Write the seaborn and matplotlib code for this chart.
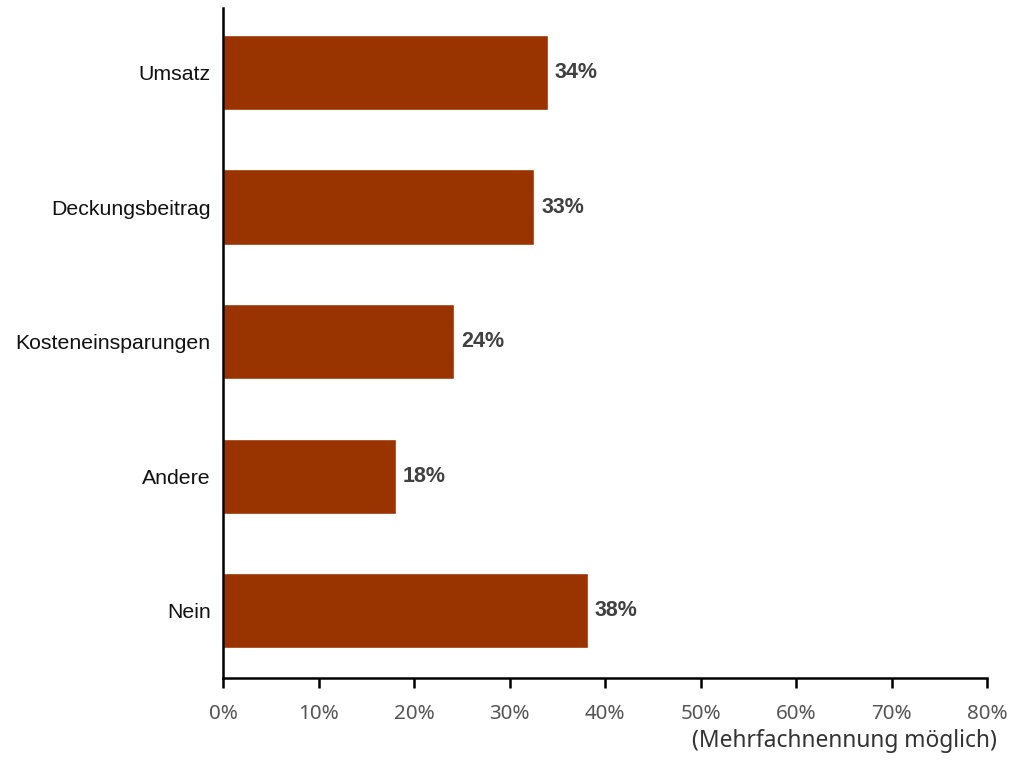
import matplotlib
matplotlib.use("Agg")
import matplotlib.pyplot as plt
import seaborn as sns
import pandas as pd
from matplotlib.ticker import FuncFormatter

# Survey answers and their shares in percent
categories = ["Umsatz", "Deckungsbeitrag", "Kosteneinsparungen", "Andere", "Nein"]
shares = [34.0, 32.6, 24.2, 18.1, 38.2]
x_ticks = [0, 10, 20, 30, 40, 50, 60, 70, 80]
note = "(Mehrfachnennung möglich)"

bar_color = "#993300"

sns.set_theme(style="white")
plt.rcParams["font.family"] = ["Liberation Sans", "DejaVu Sans"]

df = pd.DataFrame({"kategorie": categories, "anteil": shares})

fig = plt.figure(figsize=(10.11, 7.81), dpi=100)
ax = fig.add_axes([0.2206, 0.1319, 0.7557, 0.8579])

sns.barplot(data=df, x="anteil", y="kategorie", orient="h", color=bar_color,
            saturation=1, width=0.56, ax=ax)

ax.set_xlim(0, 80)
ax.set_ylim(4.5, -0.48)
ax.set_xticks(x_ticks)
ax.xaxis.set_major_formatter(FuncFormatter(lambda v, _: f"{v:.0f}%"))
ax.set_xlabel("")
ax.set_ylabel("")

for side in ("top", "right"):
    ax.spines[side].set_visible(False)
for side in ("left", "bottom"):
    ax.spines[side].set_color("black")
    ax.spines[side].set_linewidth(1.8)

ax.tick_params(axis="x", direction="out", length=7, width=1.8, color="black",
               bottom=True, pad=12, labelsize=14.8, labelcolor="#555555")
ax.tick_params(axis="y", length=0, pad=9, labelsize=15.3, labelcolor="#111111")
for lbl in ax.get_xticklabels():
    lbl.set_family(["Noto Sans", "DejaVu Sans"])

# Value labels at the end of each bar
for i, v in enumerate(shares):
    ax.text(v + 0.75, i, f"{v:.0f}%", va="center", ha="left",
            fontsize=15.5, fontweight="bold", color="#404040")

fig.text(0.986, 0.051, note, ha="right", va="center", fontsize=16.4,
         color="#333333", family=["Noto Sans", "DejaVu Sans"])

fig.savefig("out.png", dpi=100, facecolor="white")
